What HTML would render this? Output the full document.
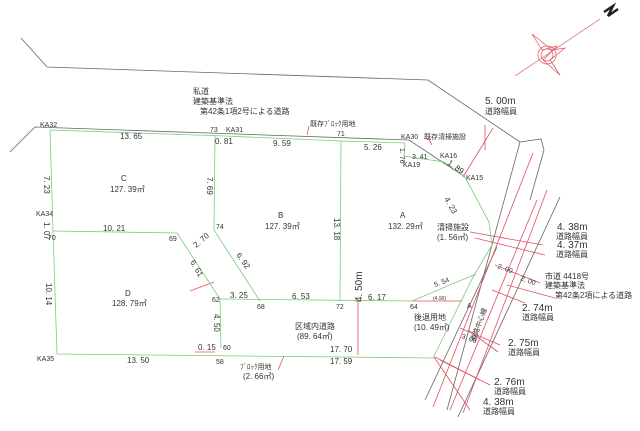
<!DOCTYPE html>
<html><head><meta charset="utf-8"><style>
html,body{margin:0;padding:0;background:#fff;}
svg{display:block;}
text{font-family:"Liberation Sans","Noto Sans CJK JP",sans-serif;fill:#333;}
.s{font-size:7px;}
.m{font-size:8px;}
.l{font-size:10px;}
</style></head><body>
<svg width="640" height="431" viewBox="0 0 640 431" xmlns="http://www.w3.org/2000/svg">
<g fill="none" stroke-width="0.8">
<polyline stroke="#666" points="21,38 47,67 428,80 520,142"/>
<polyline stroke="#666" points="10,152 35,127 409,140 465,177"/>
<polyline stroke="#666" points="520,142 541,139 544,150"/>
<line stroke="#666" x1="520" y1="142" x2="447" y2="410"/>
<line stroke="#666" x1="497" y1="247" x2="425" y2="400"/>
<line stroke="#666" x1="544" y1="150" x2="530" y2="200"/>
<line stroke="#666" x1="560" y1="197" x2="458" y2="417"/>
<line stroke="#e05060" x1="533" y1="153" x2="433" y2="407"/>
<line stroke="#e05060" x1="547" y1="190" x2="463" y2="413"/>
<line stroke="#e05060" x1="537" y1="200" x2="450" y2="410"/>
<g stroke="#e05060">
<line x1="470" y1="232" x2="543" y2="245"/>
<line x1="475" y1="238" x2="545" y2="255"/>
<line x1="495" y1="265" x2="540" y2="283"/>
<line x1="507" y1="285" x2="555" y2="298"/>
<line x1="492" y1="290" x2="525" y2="303"/>
<line x1="460" y1="328" x2="500" y2="345"/>
<line x1="468" y1="330" x2="498" y2="352"/>
<line x1="435" y1="357" x2="480" y2="380"/>
<line x1="440" y1="360" x2="490" y2="385"/>
<line x1="434" y1="357" x2="470" y2="410"/>
<line x1="463" y1="177" x2="493" y2="128"/>
<line x1="485" y1="125" x2="485" y2="150"/>
<line x1="412" y1="301" x2="462" y2="301"/>
<line x1="358" y1="301" x2="358" y2="355"/>
<line x1="355" y1="301" x2="361" y2="301"/>
<line x1="307" y1="135" x2="309" y2="126"/>
<line x1="432" y1="145" x2="428" y2="138"/>
<line x1="190" y1="291" x2="214" y2="282"/>
<line x1="195" y1="352" x2="215" y2="352"/>
<line x1="284" y1="356" x2="278" y2="370"/>
</g>
<g stroke="#e05060" stroke-width="0.7">
<circle cx="547" cy="55" r="9"/><circle cx="547" cy="55" r="6"/>
<polygon points="532,34 542,50 557,46 543,60 560,75 550,60 565,48 552,50"/>
<line x1="515" y1="76" x2="600" y2="19"/>
</g>
<g stroke="#7c7">
<polyline points="50,130 225,136 341,141 405,143 404,156 444,162 465,177 489,222 492,245 473,277 433,358 57,354 53,231 50,130"/>
<polyline points="53,231 177,233 220,299 221,348"/>
<polyline points="215,136 214,230 260,301"/>
<polyline points="220,299 412,301 476,274"/>
<line x1="341" y1="141" x2="340" y2="301"/>
</g>
</g>
<path d="M604,12 l9,-6 l-5,10 l10,-7" stroke="#222" stroke-width="2.5" fill="none"/>
<g class="m">
<text x="193" y="94">私道</text>
<text x="193" y="104">建築基準法</text>
<text x="200" y="114">第42条1項2号による道路</text>
<text x="40" y="127" class="s">KA32</text>
<text x="120" y="139">13. 65</text>
<text x="210" y="132" class="s">73</text>
<text x="226" y="132" class="s">KA31</text>
<text x="215" y="144">0. 81</text>
<text x="273" y="146">9. 59</text>
<text x="310" y="126" class="s">既存ﾌﾞﾛｯｸ用地</text>
<text x="337" y="136" class="s">71</text>
<text x="364" y="150">5. 26</text>
<text x="401" y="139" class="s">KA30</text>
<text x="424" y="139" class="s">既存清掃施設</text>
<text x="412" y="159" class="s">3. 41</text>
<text x="440" y="158" class="s">KA16</text>
<text x="403" y="167" class="s">KA19</text>
<text x="466" y="180" class="s">KA15</text>
<text x="485" y="104" class="l">5. 00m</text>
<text x="485" y="114">道路幅員</text>
<text x="121" y="181">C</text>
<text x="110" y="192">127. 39㎡</text>
<text x="278" y="218">B</text>
<text x="265" y="229">127. 39㎡</text>
<text x="400" y="218">A</text>
<text x="388" y="229">132. 29㎡</text>
<text x="437" y="230">清掃施設</text>
<text x="437" y="240">(1. 56㎡)</text>
<text x="557" y="230" class="l">4. 38m</text>
<text x="556" y="239">道路幅員</text>
<text x="557" y="248" class="l">4. 37m</text>
<text x="556" y="257">道路幅員</text>
<text x="545" y="279">市道 4418号</text>
<text x="545" y="288">建築基準法</text>
<text x="555" y="298">第42条2項による道路</text>
<text x="522" y="311" class="l">2. 74m</text>
<text x="522" y="320">道路幅員</text>
<text x="508" y="346" class="l">2. 75m</text>
<text x="508" y="355">道路幅員</text>
<text x="494" y="385" class="l">2. 76m</text>
<text x="494" y="394">道路幅員</text>
<text x="483" y="405" class="l">4. 38m</text>
<text x="483" y="414">道路幅員</text>
<text x="36" y="216" class="s">KA34</text>
<text x="48" y="240" class="s">70</text>
<text x="103" y="231">10. 21</text>
<text x="169" y="241" class="s">69</text>
<text x="216" y="229" class="s">74</text>
<text x="125" y="296">D</text>
<text x="112" y="306">128. 79㎡</text>
<text x="212" y="302" class="s">62</text>
<text x="230" y="298">3. 25</text>
<text x="257" y="309" class="s">68</text>
<text x="292" y="299">6. 53</text>
<text x="336" y="309" class="s">72</text>
<text x="368" y="300">6. 17</text>
<text x="410" y="309" class="s">64</text>
<text x="433" y="300" style="font-size:5px">(4.90)</text>
<text x="467" y="308" class="s">A</text>
<text x="435" y="287" class="s" transform="rotate(-20 435 287)">5. 54</text>
<text x="414" y="320">後退用地</text>
<text x="414" y="330">(10. 49㎡)</text>
<text x="295" y="329">区域内道路</text>
<text x="297" y="339">(89. 64㎡)</text>
<text x="330" y="352">17. 70</text>
<text x="330" y="364">17. 59</text>
<text x="198" y="350">0. 15</text>
<text x="223" y="350" class="s">60</text>
<text x="216" y="364" class="s">58</text>
<text x="240" y="369" class="s">ﾌﾞﾛｯｸ用地</text>
<text x="243" y="379">(2. 66㎡)</text>
<text x="37" y="361" class="s">KA35</text>
<text x="127" y="363">13. 50</text>
<text x="461" y="338" class="s" transform="rotate(20 461 338)">3. 00</text>
<text x="497" y="268" class="s" transform="rotate(20 497 268)">2. 00</text>
<text x="520" y="280" class="s" transform="rotate(20 520 280)">2. 00</text>
</g>
<g class="m">
<text transform="translate(44,176) rotate(90)">7. 23</text>
<text transform="translate(44,222) rotate(90)">1. 07</text>
<text transform="translate(46,283) rotate(90)">10. 14</text>
<text transform="translate(207,177) rotate(90)">7. 69</text>
<text transform="translate(334,218) rotate(90)">13. 18</text>
<text transform="translate(214,314) rotate(90)">4. 50</text>
<text transform="translate(190,262) rotate(60)">6. 61</text>
<text transform="translate(236,255) rotate(55)">6. 92</text>
<text transform="translate(196,248) rotate(-40)">2. 70</text>
<text transform="translate(444,199) rotate(60)">4. 23</text>
<text transform="translate(447,164) rotate(35)">1. 89</text>
<text transform="translate(400,148) rotate(90)" class="s">1. 76</text>
<text transform="translate(362,302) rotate(-90)" class="l">4. 50m</text>
<text transform="translate(475,342) rotate(-70)" class="s">道路中心線</text>
</g>
</svg>
</body></html>
